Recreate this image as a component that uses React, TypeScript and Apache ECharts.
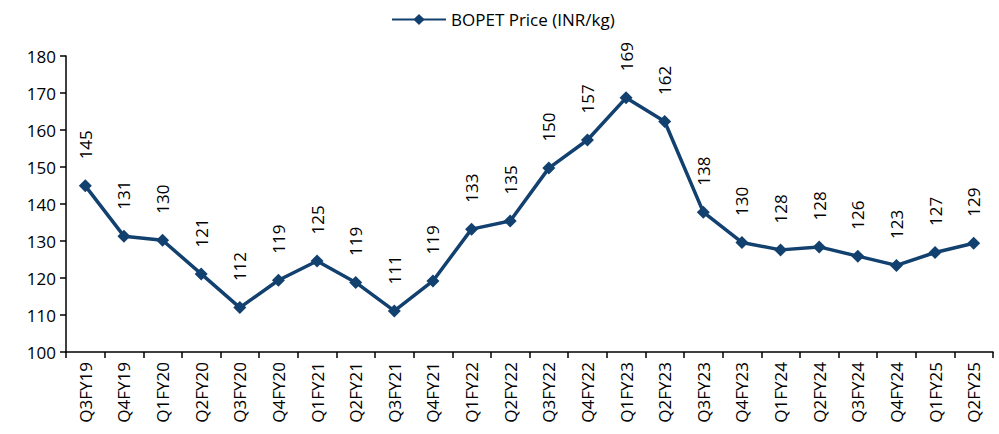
import React, { useEffect, useRef } from "react";
import * as echarts from "echarts";

const categories = [
  "Q3FY19", "Q4FY19", "Q1FY20", "Q2FY20", "Q3FY20", "Q4FY20",
  "Q1FY21", "Q2FY21", "Q3FY21", "Q4FY21", "Q1FY22", "Q2FY22",
  "Q3FY22", "Q4FY22", "Q1FY23", "Q2FY23", "Q3FY23", "Q4FY23",
  "Q1FY24", "Q2FY24", "Q3FY24", "Q4FY24", "Q1FY25", "Q2FY25",
];
const bopetPrice = [
  144.9, 131.3, 130.2, 121.1, 112.0, 119.4,
  124.6, 118.8, 111.1, 119.2, 133.2, 135.4,
  149.7, 157.3, 168.7, 162.3, 137.8, 129.6,
  127.6, 128.4, 125.9, 123.4, 126.9, 129.4,
];
const seriesName = "BOPET Price (INR/kg)";

const FONT = "'Open Sans', 'Noto Sans', sans-serif";
const COLOR = "#12406F";

export default function App() {
  const ref = useRef<HTMLDivElement>(null);
  useEffect(() => {
    if (!ref.current) return;
    const chart = echarts.init(ref.current, undefined, { renderer: "svg" });
    chart.setOption({
      animation: false,
      textStyle: { fontFamily: FONT },
      legend: {
        top: 6,
        left: 386,
        itemWidth: 54,
        itemHeight: 14,
        itemGap: 10,
        textStyle: { fontSize: 17, color: "#000", fontFamily: FONT },
        data: [seriesName],
      },
      grid: { left: 66, right: 6, top: 56, bottom: 82, containLabel: false },
      xAxis: {
        type: "category",
        data: categories,
        boundaryGap: true,
        axisLine: { lineStyle: { color: "#000", width: 1.5 } },
        axisTick: { show: true, alignWithLabel: false, length: 6, lineStyle: { color: "#000", width: 1.5 } },
        axisLabel: {
          rotate: 90,
          interval: 0,
          color: "#000",
          fontSize: 17,
          fontFamily: FONT,
          margin: 10,
        },
        splitLine: { show: false },
      },
      yAxis: {
        type: "value",
        min: 100,
        max: 180,
        interval: 10,
        axisLine: { show: true, lineStyle: { color: "#000", width: 1.5 } },
        axisTick: { show: true, length: 6, lineStyle: { color: "#000", width: 1.5 } },
        axisLabel: { color: "#000", fontSize: 17, fontFamily: FONT, margin: 10 },
        splitLine: { show: false },
      },
      series: [
        {
          name: seriesName,
          type: "line",
          data: bopetPrice,
          symbol: "diamond",
          symbolSize: 13,
          lineStyle: { color: COLOR, width: 3.5 },
          itemStyle: { color: COLOR },
          label: {
            show: true,
            position: "top",
            distance: 20,
            rotate: 90,
            align: "left",
            verticalAlign: "middle",
            color: "#000",
            fontSize: 17,
            fontFamily: FONT,
            formatter: (p: any) => String(Math.round(p.value)),
          },
        },
      ],
    });
    return () => chart.dispose();
  }, []);
  return (
    <div
      ref={ref}
      style={{ position: "absolute", left: 0, top: 0, width: 999, height: 434, background: "#fff" }}
    />
  );
}
